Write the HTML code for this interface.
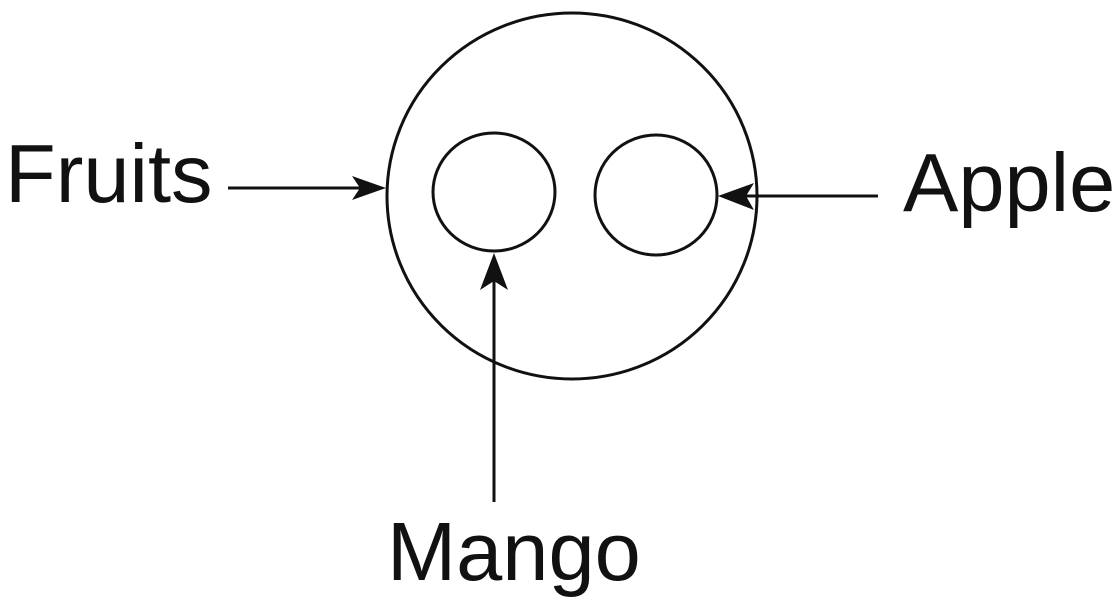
<!DOCTYPE html>
<html><head><meta charset="utf-8"><style>
html,body{margin:0;padding:0;background:#fff;}
svg{display:block;}
text{font-family:"Liberation Sans",Arial,sans-serif;font-size:83px;fill:#111;}
</style></head><body>
<svg width="1117" height="609" viewBox="0 0 1117 609" xmlns="http://www.w3.org/2000/svg">
<g fill="none" stroke="#111" stroke-width="3">
<ellipse cx="572" cy="196" rx="185" ry="183"/>
<ellipse cx="494" cy="192" rx="61" ry="59"/>
<ellipse cx="656" cy="195" rx="61" ry="60"/>
<line x1="228" y1="188" x2="375" y2="188"/>
<line x1="878" y1="196" x2="728" y2="196"/>
<line x1="494" y1="502" x2="494" y2="265"/>
</g>
<g fill="#111">
<polygon points="386,188 352,176 360,188 352,200"/>
<polygon points="718,196 754,183 746,196 754,210"/>
<polygon points="494,253 480,290 494,281 508,290"/>
</g>
<text x="5" y="202">Fruits</text>
<text x="903" y="211">Apple</text>
<text x="387" y="580">Mango</text>
</svg>
</body></html>
